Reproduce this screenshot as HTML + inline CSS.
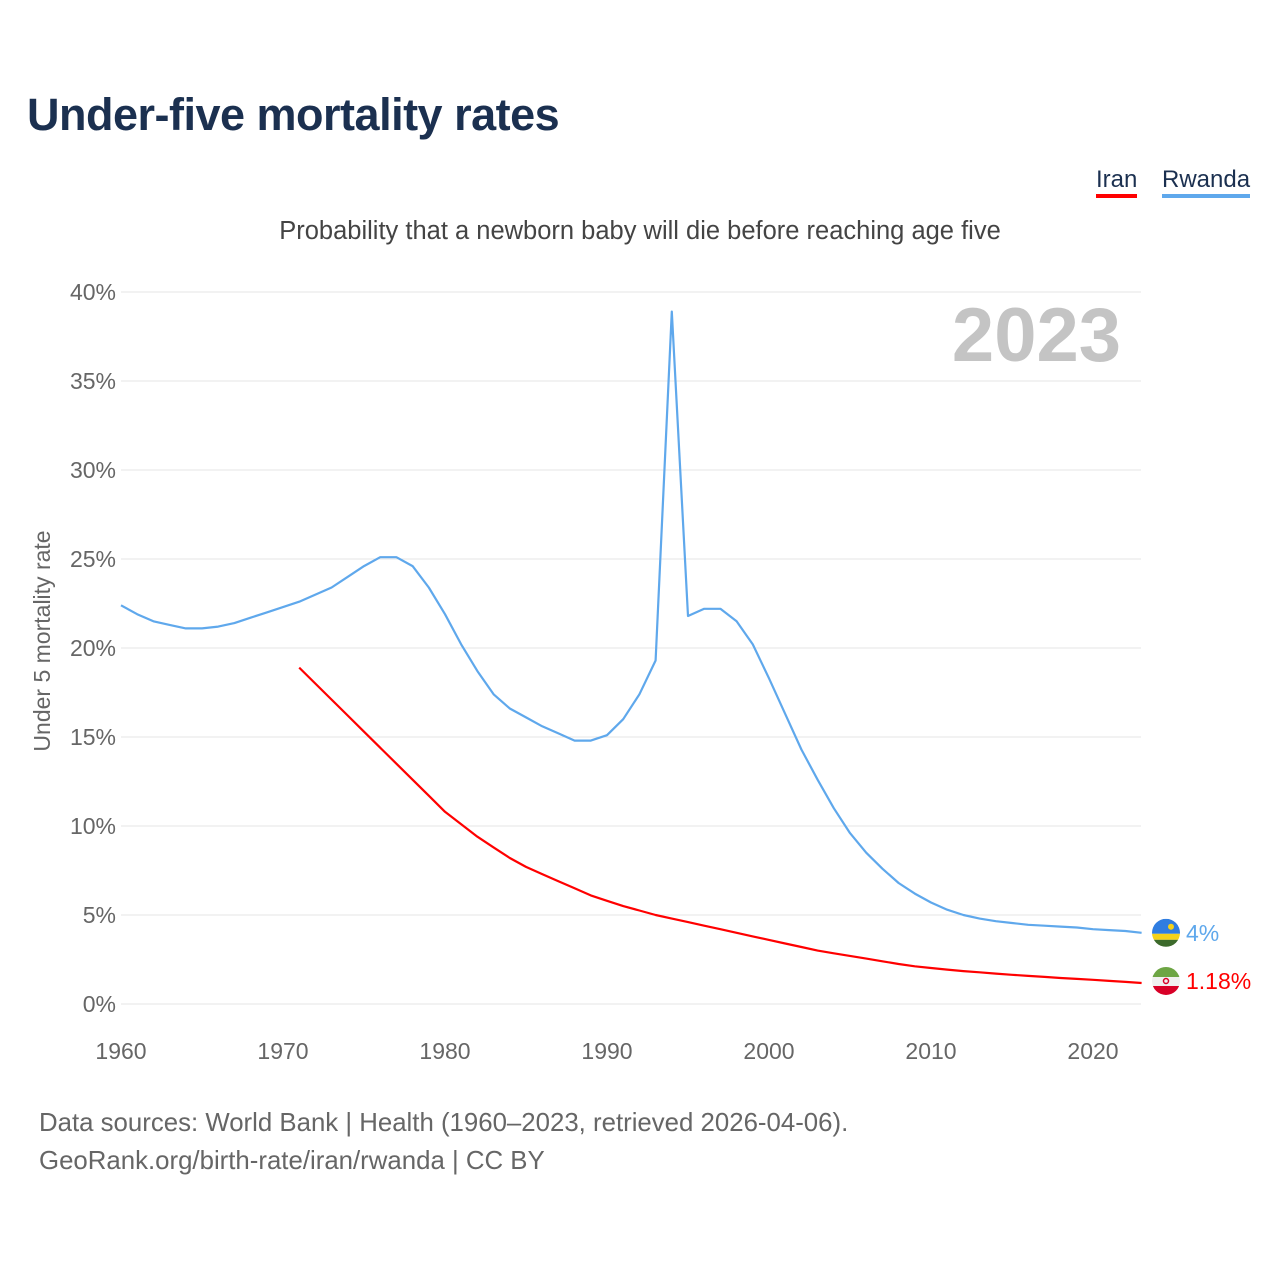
<!DOCTYPE html>
<html><head><meta charset="utf-8">
<style>
html,body{margin:0;padding:0;background:#fff;}
body{width:1280px;height:1280px;position:relative;font-family:"Liberation Sans",sans-serif;overflow:hidden;}
.t{position:absolute;white-space:nowrap;}
</style></head>
<body>
<div class="t" style="left:27px;top:89px;font-size:45px;font-weight:bold;color:#1b3050;letter-spacing:-0.5px;">Under-five mortality rates</div>
<div class="t" style="left:1096px;top:166px;font-size:24px;color:#1b3050;border-bottom:4px solid #ff0000;line-height:28px;">Iran</div>
<div class="t" style="left:1162px;top:166px;font-size:24px;color:#1b3050;border-bottom:4px solid #5fa8ec;line-height:28px;">Rwanda</div>
<div class="t" style="left:0;width:1280px;text-align:center;top:217px;font-size:25.5px;color:#444;">Probability that a newborn baby will die before reaching age five</div>
<div class="t" style="left:39px;top:1104px;font-size:25.8px;color:#666;line-height:38px;">Data sources: World Bank | Health (1960–2023, retrieved 2026-04-06).<br>GeoRank.org/birth-rate/iran/rwanda | CC BY</div>
<svg id="chart" width="1280" height="1280" style="position:absolute;left:0;top:0;" xmlns="http://www.w3.org/2000/svg"></svg>
<script>
const yTicks=[0,5,10,15,20,25,30,35,40];
const xTicks=[1960,1970,1980,1990,2000,2010,2020];
const rwandaYears=[];for(let y=1960;y<=2023;y++)rwandaYears.push(y);
const rwandaValues=[22.4,21.9,21.5,21.3,21.1,21.1,21.2,21.4,21.7,22.0,22.3,22.6,23.0,23.4,24.0,24.6,25.1,25.1,24.6,23.4,21.9,20.2,18.7,17.4,16.6,16.1,15.6,15.2,14.8,14.8,15.1,16.0,17.4,19.3,38.9,21.8,22.2,22.2,21.5,20.2,18.3,16.3,14.3,12.6,11.0,9.6,8.5,7.6,6.8,6.2,5.7,5.3,5.0,4.8,4.65,4.55,4.45,4.4,4.35,4.3,4.2,4.15,4.1,4.0];
const iranYears=[];for(let y=1971;y<=2023;y++)iranYears.push(y);
const iranValues=[18.9,18.0,17.1,16.2,15.3,14.4,13.5,12.6,11.7,10.8,10.1,9.4,8.8,8.2,7.7,7.3,6.9,6.5,6.1,5.8,5.5,5.25,5.0,4.8,4.6,4.4,4.2,4.0,3.8,3.6,3.4,3.2,3.0,2.85,2.7,2.55,2.4,2.25,2.12,2.02,1.93,1.85,1.78,1.71,1.64,1.58,1.52,1.46,1.41,1.36,1.3,1.24,1.18];
const svg=document.getElementById('chart');const NS='http://www.w3.org/2000/svg';
const X=y=>121+(y-1960)*16.2;
const Y=v=>1004-v*17.8;
function mk(tag,attrs,parent){const e=document.createElementNS(NS,tag);for(const k in attrs)e.setAttribute(k,attrs[k]);(parent||svg).appendChild(e);return e;}
yTicks.forEach(v=>{
  const l=mk('line',{x1:121,x2:1141,y1:Y(v),y2:Y(v),stroke:'#e6e6e6','stroke-width':1});
  
  
  const t=mk('text',{x:116,y:Y(v)+8,'text-anchor':'end','font-size':23,fill:'#666','font-family':'Liberation Sans, sans-serif'});
  t.textContent=v+'%';
  
  
});
xTicks.forEach(v=>{
  const t=mk('text',{x:X(v),y:1059,'text-anchor':'middle','font-size':23,fill:'#666','font-family':'Liberation Sans, sans-serif'});
  t.textContent=v;
  
  
});
const yt=mk('text',{x:0,y:0,transform:'translate(50,641) rotate(-90)','text-anchor':'middle','font-size':23,fill:'#666','font-family':'Liberation Sans, sans-serif'});
yt.textContent='Under 5 mortality rate';


const yr=mk('text',{x:1121,y:361,'text-anchor':'end','font-size':76,'font-weight':'bold',fill:'#c4c4c4','font-family':'Liberation Sans, sans-serif'});
yr.textContent='2023';


function line(years,vals,color,name){
  const d=years.map((y,i)=>(i?'L':'M')+X(y).toFixed(1)+','+Y(vals[i]).toFixed(1)).join(' ');
  const p=mk('path',{d:d,fill:'none',stroke:color,'stroke-width':2.2,'stroke-linejoin':'round'});
  
  
}
line(rwandaYears,rwandaValues,'#5fa8ec','rwanda-line');
line(iranYears,iranValues,'#ff0000','iran-line');
const rv=rwandaValues[rwandaValues.length-1],iv=iranValues[iranValues.length-1];
const cx=1166,ry=Y(rv),iy=Y(iv)-2;
const fr=mk('g',{});


mk('clipPath',{id:'cr'},fr);mk('circle',{cx:cx,cy:ry,r:14},fr.lastChild);
const gr=mk('g',{'clip-path':'url(#cr)'},fr);
mk('rect',{x:cx-14,y:ry-14,width:28,height:15,fill:'#2f7de1'},gr);
mk('rect',{x:cx-14,y:ry+1,width:28,height:6,fill:'#f5d21a'},gr);
mk('rect',{x:cx-14,y:ry+7,width:28,height:8,fill:'#3c6a2b'},gr);
mk('circle',{cx:cx+5,cy:ry-6,r:3,fill:'#f5d21a'},gr);
const fi=mk('g',{});


mk('clipPath',{id:'ci'},fi);mk('circle',{cx:cx,cy:iy,r:14},fi.lastChild);
const gi=mk('g',{'clip-path':'url(#ci)'},fi);
mk('rect',{x:cx-14,y:iy-14,width:28,height:10,fill:'#6da544'},gi);
mk('rect',{x:cx-14,y:iy-4,width:28,height:9,fill:'#f0f0f0'},gi);
mk('rect',{x:cx-14,y:iy+5,width:28,height:10,fill:'#d80027'},gi);
mk('circle',{cx:cx,cy:iy,r:2.5,fill:'none',stroke:'#d80027','stroke-width':1.5},gi);
const lr=mk('text',{x:1186,y:ry+8,'font-size':23,fill:'#5fa8ec','font-family':'Liberation Sans, sans-serif'});
lr.textContent=rv+'%';


const li=mk('text',{x:1186,y:iy+8,'font-size':23,fill:'#ff0000','font-family':'Liberation Sans, sans-serif'});
li.textContent=iv+'%';


</script>
</body></html>
